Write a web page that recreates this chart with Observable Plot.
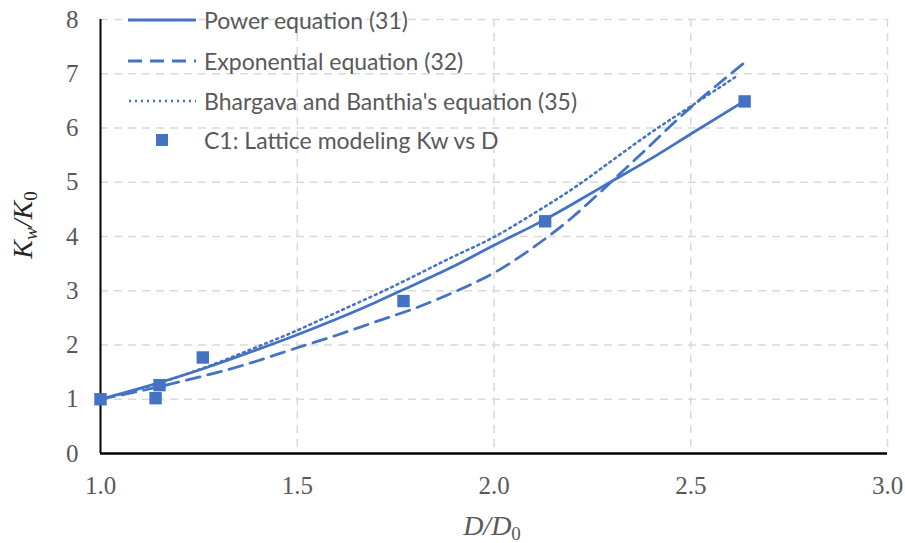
<!DOCTYPE html>
<html>
<head>
<meta charset="utf-8">
<script src="https://cdn.jsdelivr.net/npm/d3@7"></script>
<script src="https://cdn.jsdelivr.net/npm/@observablehq/plot@0.6"></script>
<style>
  html, body { margin: 0; padding: 0; background: #fff; }
  #wrap { position: relative; width: 905px; height: 543px; }
  #legend { position: absolute; left: 128px; top: 0; font-family: Lato, "Liberation Sans", sans-serif; font-size: 23px; color: #595959; }
  .row { position: absolute; left: 0; height: 40px; display: flex; align-items: center; white-space: nowrap; }
  .row svg { width: 68px; height: 20px; margin-right: 8px; flex: none; }
</style>
</head>
<body>
<div id="wrap"></div>
<script>
// Data
const dataX = [1.0, 1.14, 1.15, 1.26, 1.77, 2.13, 2.637];
const dataY = [1.0, 1.02, 1.26, 1.77, 2.81, 4.28, 6.49];

const powerX = [1.0, 1.1, 1.2, 1.3, 1.4, 1.5, 1.6, 1.7, 1.8, 1.9, 2.0, 2.1, 2.2, 2.3, 2.4, 2.5, 2.637];
const powerY = [1.0, 1.20, 1.42, 1.66, 1.92, 2.19, 2.48, 2.79, 3.12, 3.46, 3.84, 4.20, 4.60, 5.02, 5.44, 5.89, 6.50];
const expX   = [1.0, 1.1, 1.2, 1.3, 1.4, 1.5, 1.6, 1.7, 1.8, 1.9, 2.0, 2.1, 2.2, 2.3, 2.4, 2.5, 2.634];
const expY   = [1.0, 1.15, 1.32, 1.50, 1.71, 1.95, 2.18, 2.43, 2.68, 2.98, 3.33, 3.80, 4.36, 5.02, 5.70, 6.38, 7.19];
const bbX    = [1.0, 1.1, 1.2, 1.3, 1.4, 1.5, 1.6, 1.7, 1.8, 1.9, 2.0, 2.1, 2.2, 2.3, 2.4, 2.5, 2.62];
const bbY    = [1.0, 1.19, 1.42, 1.68, 1.97, 2.27, 2.60, 2.93, 3.28, 3.64, 3.99, 4.42, 4.88, 5.40, 5.92, 6.40, 6.97];

const xTicks = [1.0, 1.5, 2.0, 2.5, 3.0];
const yTicks = [0, 1, 2, 3, 4, 5, 6, 7, 8];
const legendLabels = ["Power equation (31)", "Exponential equation (32)", "Bhargava and Banthia's equation (35)", "C1: Lattice modeling Kw vs D"];

const blue = "#4472C4";
const pts = dataX.map((x, i) => ({x, y: dataY[i]}));
const power = powerX.map((x, i) => ({x, y: powerY[i]}));
const expo = expX.map((x, i) => ({x, y: expY[i]}));
const bb = bbX.map((x, i) => ({x, y: bbY[i]}));

const plot = Plot.plot({
  width: 905,
  height: 543,
  marginLeft: 100,
  marginRight: 18,
  marginTop: 19,
  marginBottom: 90,
  style: { fontFamily: "'Liberation Serif', 'Times New Roman', serif", fontSize: "25px", color: "#595959", background: "#fff" },
  x: { domain: [1, 3], ticks: xTicks, tickFormat: d3.format(".1f"), tickSize: 0, tickPadding: 23, label: null },
  y: { domain: [0, 8], ticks: yTicks, tickSize: 0, tickPadding: 22, label: null },
  marks: [
    Plot.gridX(xTicks.filter(d => d > 1), { stroke: "#d9d9d9", strokeOpacity: 1, strokeWidth: 1.5, strokeDasharray: "8,6" }),
    Plot.gridY(yTicks.filter(d => d > 0), { stroke: "#d9d9d9", strokeOpacity: 1, strokeWidth: 1.5, strokeDasharray: "8,6" }),
    Plot.ruleX([1], { stroke: "#000", strokeWidth: 2 }),
    Plot.ruleY([0], { stroke: "#000", strokeWidth: 2.5 }),
    Plot.line(bb, { x: "x", y: "y", stroke: blue, strokeWidth: 2.5, strokeDasharray: "2,4", curve: "natural" }),
    Plot.line(expo, { x: "x", y: "y", stroke: blue, strokeWidth: 2.75, strokeDasharray: "14,8", curve: "natural" }),
    Plot.line(power, { x: "x", y: "y", stroke: blue, strokeWidth: 2.75, curve: "natural" }),
    Plot.dot(pts, { x: "x", y: "y", symbol: "square", r: 7, fill: blue, stroke: "none" })
  ]
});

const wrap = document.getElementById("wrap");
wrap.appendChild(plot);

// Axis titles (italic, with subscripts)
const svg = d3.select(plot);
const xt = svg.append("text")
  .attr("x", 492).attr("y", 535)
  .attr("text-anchor", "middle")
  .attr("font-family", "'Liberation Serif', 'Times New Roman', serif")
  .attr("font-size", 28).attr("fill", "#595959").attr("font-style", "italic");
xt.append("tspan").text("D/D");
xt.append("tspan").attr("dy", 5).attr("font-size", 19).attr("font-style", "normal").text("0");

const yt = svg.append("text")
  .attr("transform", "translate(32,225) rotate(-90)")
  .attr("text-anchor", "middle")
  .attr("font-family", "'Liberation Serif', 'Times New Roman', serif")
  .attr("font-size", 28).attr("fill", "#262626").attr("font-style", "italic");
yt.append("tspan").text("K");
yt.append("tspan").attr("dy", 5).attr("font-size", 19).text("w");
yt.append("tspan").attr("dy", -5).text("/K");
yt.append("tspan").attr("dy", 5).attr("font-size", 19).attr("font-style", "normal").text("0");

// Legend (inside plot, top-left)
const legend = document.createElement("div");
legend.id = "legend";
const swatches = [
  `<line x1="0" y1="10" x2="68" y2="10" stroke="${blue}" stroke-width="3"/>`,
  `<line x1="0" y1="10" x2="68" y2="10" stroke="${blue}" stroke-width="3" stroke-dasharray="14,8"/>`,
  `<line x1="1" y1="10" x2="68" y2="10" stroke="${blue}" stroke-width="2.5" stroke-dasharray="2,4"/>`,
  `<rect x="28" y="4" width="12" height="12" fill="${blue}"/>`
];
const rowTops = [0, 41, 81, 120];
legendLabels.forEach((lab, i) => {
  const r = document.createElement("div");
  r.className = "row";
  r.style.top = rowTops[i] + "px";
  r.innerHTML = `<svg>${swatches[i]}</svg><span>${lab}</span>`;
  legend.appendChild(r);
});
wrap.appendChild(legend);
</script>
</body>
</html>
